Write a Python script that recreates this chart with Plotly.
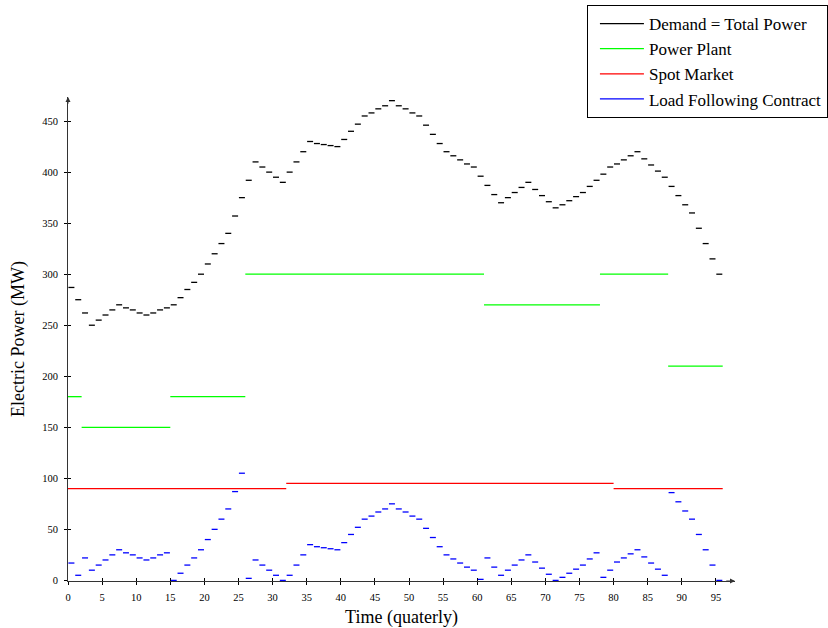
import plotly.graph_objects as go

# Quarter-hour index 0..95
demand = [287, 275, 262, 250, 255, 260, 265, 270, 267, 265, 262, 260, 262, 265, 267, 270,
          277, 285, 292, 300, 310, 320, 330, 340, 357, 375, 392, 410,
          405, 400, 395, 390, 400, 410, 420, 430, 428, 427, 426, 425, 432, 440, 447, 455,
          458, 462, 465, 470, 465, 462, 458, 455, 446, 437, 428, 420, 416, 412, 408, 405,
          396, 387, 378, 370, 375, 380, 385, 390, 383, 377, 371, 365, 368, 372, 376, 380,
          386, 392, 398, 405, 408, 412, 416, 420, 413, 407, 401, 395, 386, 377, 368, 360,
          345, 330, 315, 300]

load_following = [17, 5, 22, 10, 15, 20, 25, 30, 27, 25, 22, 20, 22, 25, 27, 0,
                  7, 15, 22, 30, 40, 50, 60, 70, 87, 105, 2, 20,
                  15, 10, 5, 0, 5, 15, 25, 35, 33, 32, 31, 30, 37, 45, 52, 60,
                  63, 67, 70, 75, 70, 67, 63, 60, 51, 42, 33, 25, 21, 17, 13, 10,
                  1, 22, 13, 5, 10, 15, 20, 25, 18, 12, 6, 0, 3, 7, 11, 15,
                  21, 27, 3, 10, 18, 22, 26, 30, 23, 17, 11, 5, 86, 77, 68, 60,
                  45, 30, 15, 0]

plant_breaks = [0, 2, 15, 26, 61, 78, 88, 96]
plant_levels = [180, 150, 180, 300, 270, 300, 210]

spot_breaks = [0, 32, 80, 96]
spot_levels = [90, 95, 90]

x_ticks = list(range(0, 96, 5))
y_ticks = list(range(0, 451, 50))

FONT = "Liberation Serif"


def dashes(values, gap):
    xs, ys = [], []
    for i, v in enumerate(values):
        xs += [i + gap, i + 1 - gap, None]
        ys += [v, v, None]
    return xs, ys


def steps(breaks, levels):
    xs, ys = [], []
    for a, b, v in zip(breaks[:-1], breaks[1:], levels):
        xs += [a, b, None]
        ys += [v, v, None]
    return xs, ys


fig = go.Figure()
dx, dy = dashes(demand, 0.06)
fig.add_trace(go.Scatter(x=dx, y=dy, mode="lines", name="Demand = Total Power",
                         line=dict(color="black", width=1.3), cliponaxis=False))
px_, py_ = steps(plant_breaks, plant_levels)
fig.add_trace(go.Scatter(x=px_, y=py_, mode="lines", name="Power Plant",
                         line=dict(color="#00ff00", width=1.3), cliponaxis=False))
sx, sy = steps(spot_breaks, spot_levels)
fig.add_trace(go.Scatter(x=sx, y=sy, mode="lines", name="Spot Market",
                         line=dict(color="#ff0000", width=1.3), cliponaxis=False))
lx, ly = dashes(load_following, 0.06)
fig.add_trace(go.Scatter(x=lx, y=ly, mode="lines", name="Load Following Contract",
                         line=dict(color="#0000ff", width=1.3), cliponaxis=False))

XR = [0, 97.8]
YR = [-0.6, 473.6]

fig.update_layout(
    width=828, height=628,
    margin=dict(l=68, r=93, t=97, b=47, autoexpand=False),
    plot_bgcolor="white", paper_bgcolor="white",
    font=dict(family=FONT, color="black", size=11),
    showlegend=True,
    legend=dict(x=0.778, y=1.19, xanchor="left", yanchor="top",
                bordercolor="black", borderwidth=1, bgcolor="white",
                font=dict(family=FONT, size=17), tracegroupgap=0,
                itemwidth=44, indentation=7),
    xaxis=dict(range=XR, showgrid=False, zeroline=False, showline=True,
               linecolor="#333", linewidth=1, ticks="outside", ticklen=3,
               tickcolor="black", tickwidth=1, tickvals=x_ticks,
               ticklabelstandoff=3,
               tickfont=dict(family=FONT, size=10.5),
               title=dict(text="Time (quaterly)", font=dict(family=FONT, size=18),
                          standoff=9)),
    yaxis=dict(range=YR, showgrid=False, zeroline=False, showline=True,
               linecolor="#333", linewidth=1, ticks="outside", ticklen=3,
               tickcolor="black", tickwidth=1, tickvals=y_ticks,
               ticklabelstandoff=4,
               tickfont=dict(family=FONT, size=10.5),
               title=dict(text="Electric Power (MW)", font=dict(family=FONT, size=18),
                          standoff=12)),
    xaxis2=dict(range=XR, overlaying="x", showgrid=False, zeroline=False,
                showline=False, ticks="inside", ticklen=3, tickcolor="black",
                tickvals=x_ticks, showticklabels=False, anchor="y"),
    yaxis2=dict(range=YR, overlaying="y", showgrid=False, zeroline=False,
                showline=False, ticks="inside", ticklen=3, tickcolor="black",
                tickvals=y_ticks, showticklabels=False, anchor="x"),
)
# invisible trace to activate the secondary (inside-tick) axes
fig.add_trace(go.Scatter(x=[None], y=[None], xaxis="x2", yaxis="y2",
                         showlegend=False, hoverinfo="skip"))

# axis arrowheads
fig.add_annotation(x=XR[1], y=YR[0], ax=XR[1] - 1.5, ay=YR[0], xref="x", yref="y",
                   axref="x", ayref="y", showarrow=True, arrowhead=2, arrowsize=1,
                   arrowwidth=1, arrowcolor="#333", text="")
fig.add_annotation(x=0, y=YR[1], ax=0, ay=YR[1] - 8, xref="x", yref="y",
                   axref="x", ayref="y", showarrow=True, arrowhead=2, arrowsize=1,
                   arrowwidth=1, arrowcolor="#333", text="")

fig.write_html("out.html",
               config={"displayModeBar": False},
               post_script="document.body.style.margin='0px';"
                           "document.body.style.overflow='hidden';")
